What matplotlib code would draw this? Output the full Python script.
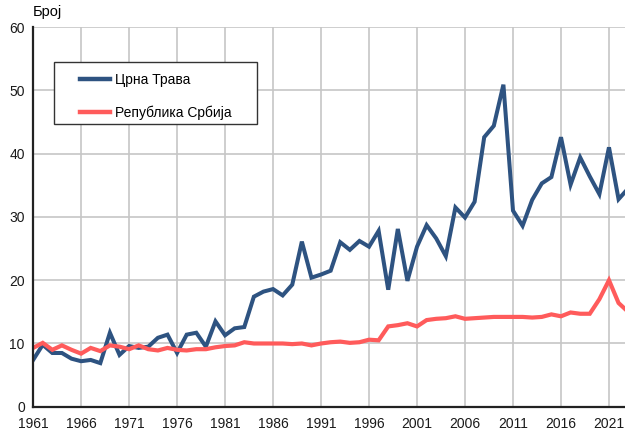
import matplotlib.pyplot as plt
from matplotlib.patches import Rectangle

plt.rcParams['font.family'] = ['Liberation Sans', 'DejaVu Sans']

YEARS = list(range(1961, 2024))

CRNA_TRAVA = [7.4, 9.8, 8.5, 8.5, 7.6, 7.2, 7.4, 6.9, 11.7, 8.2,
              9.6, 9.3, 9.5, 10.9, 11.4, 8.5, 11.4, 11.7, 9.5, 13.5,
              11.3, 12.4, 12.6, 17.4, 18.2, 18.6, 17.6, 19.3, 26.1, 20.4,
              20.9, 21.5, 26.0, 24.8, 26.2, 25.3, 27.8, 18.5, 28.1, 19.9,
              25.3, 28.7, 26.6, 23.8, 31.5, 29.9, 32.4, 42.6, 44.4, 50.9,
              31.0, 28.6, 32.7, 35.3, 36.3, 42.6, 35.1, 39.4, 36.4, 33.6,
              41.0, 32.8, 34.5]

SRBIJA = [9.3, 10.1, 9.0, 9.7, 9.0, 8.4, 9.3, 8.8, 9.7, 9.5,
          9.1, 9.7, 9.1, 8.9, 9.3, 9.0, 8.9, 9.1, 9.1, 9.4,
          9.6, 9.7, 10.2, 10.0, 10.0, 10.0, 10.0, 9.9, 10.0, 9.7,
          10.0, 10.2, 10.3, 10.1, 10.2, 10.6, 10.5, 12.7, 12.9, 13.2,
          12.7, 13.7, 13.9, 14.0, 14.3, 13.9, 14.0, 14.1, 14.2, 14.2,
          14.2, 14.2, 14.1, 14.2, 14.6, 14.3, 14.9, 14.7, 14.7, 17.0,
          20.0, 16.4, 15.0]

X_TICKS = list(range(1961, 2022, 5))
Y_TICKS = list(range(0, 61, 10))

fig = plt.figure(figsize=(6.25, 4.3), dpi=100)
ax = fig.add_axes([0.053, 0.054, 0.947, 0.883])

ax.plot(YEARS, CRNA_TRAVA, color='#2E5381', lw=2.9, label='Црна Трава',
        solid_joinstyle='miter')
ax.plot(YEARS, SRBIJA, color='#FF5B5B', lw=3.0, label='Република Србија',
        solid_joinstyle='miter')

ax.set_xlim(1961, 2022.67)
ax.set_ylim(0, 60)
ax.set_xticks(X_TICKS)
ax.set_yticks(Y_TICKS)
ax.tick_params(length=0, labelsize=10, colors='#1a1a1a')
ax.tick_params(axis='x', pad=7)
ax.tick_params(axis='y', pad=6)
ax.grid(True, color='#C6C6C6', lw=1.2)
ax.set_axisbelow(True)

for side in ['top', 'right']:
    ax.spines[side].set_visible(False)
for side in ['left', 'bottom']:
    ax.spines[side].set_linewidth(1.6)
    ax.spines[side].set_color('#222222')
    ax.spines[side].set_zorder(5)

fig.text(0.053, 0.972, 'Број', fontsize=10.5, ha='left', va='center')

# legend box drawn separately so it can be wider than the entries
box = Rectangle((0.0355, 0.745), 0.343, 0.163, transform=ax.transAxes,
                facecolor='white', edgecolor='#333333', lw=1.0, zorder=6)
ax.add_patch(box)
leg = ax.legend(loc='upper left', bbox_to_anchor=(0.079, 0.879), fontsize=10,
                frameon=False, handlelength=2.15, labelspacing=1.3,
                borderpad=0, handletextpad=0.4, borderaxespad=0)
leg.set_zorder(7)
for line in leg.get_lines():
    line.set_linewidth(3.2)

fig.savefig('out.png', dpi=100)
